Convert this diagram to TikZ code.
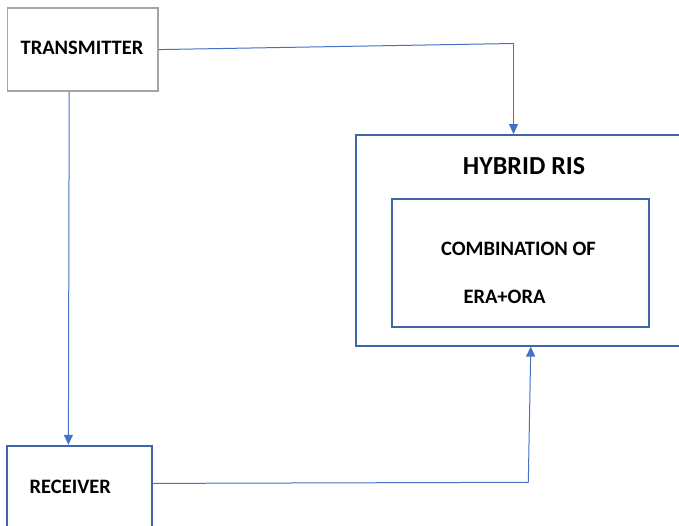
\documentclass[tikz,border=0pt]{standalone}
\usepackage{fontspec}
\setmainfont{Carlito}
\usetikzlibrary{arrows.meta,calc}
\definecolor{lineblue}{RGB}{68,114,196}
\definecolor{boxblue}{RGB}{62,100,170}
\definecolor{boxgray}{RGB}{165,165,165}
\tikzset{
  graybox/.style={draw=boxgray,line width=1.6pt,inner sep=0pt,fill=white},
  bluebox/.style={draw=boxblue,line width=1.8pt,inner sep=0pt,fill=white},
  lbl/.style={font=\bfseries\fontsize{20.5}{24}\selectfont,inner sep=0pt,text=black},
  biglbl/.style={font=\bfseries\fontsize{26}{30}\selectfont,inner sep=0pt,text=black},
  conn/.style={draw=lineblue,line width=1pt},
  arr/.style={conn,-{Triangle[length=10pt,width=9pt]}}
}
\begin{document}
\begin{tikzpicture}[x=1pt,y=-1pt]
\useasboundingbox (0,0) rectangle (679,526);
\clip (0,0) rectangle (679,526);
% boxes
\node[graybox,minimum width=150.4pt,minimum height=82.7pt] (tx) at (82.5,49.6) {};
\node[lbl] (txt) at (82,48) {TRANSMITTER};
\node[bluebox,minimum width=364pt,minimum height=210.7pt] (ris) at (538,240.35) {};
\node[biglbl] (ristitle) at (524,165.7) {HYBRID RIS};
\node[bluebox,minimum width=257pt,minimum height=127.7pt] (comb) at (520.8,262.85) {};
\node[lbl] (combt) at (518.5,249) {COMBINATION OF};
\node[lbl] (erat) at (504.5,297) {ERA+ORA};
\node[bluebox,minimum width=145.6pt,minimum height=120pt] (rx) at (79.5,505.7) {};
\node[lbl] (rxt) at (70.3,486.5) {RECEIVER};
% connector points
\coordinate (c1) at (513.5,43.5);
\coordinate (c2) at (528.3,482.3);
\coordinate (txb) at ($(tx.south west)+(62.7,0)$);
\coordinate (rxtop) at ($(rx.north west)+(62.6,0)$);
\coordinate (rxe) at ($(rx.north east)+(0,38.6)$);
\coordinate (risb) at ($(ris.south west)+(175.7,0)$);
% connectors
\draw[conn] (tx.east) -- (c1);
\draw[arr] (c1) -- (c1 |- ris.north);
\draw[arr] (txb) -- (rxtop);
\draw[conn] (rxe) -- (c2);
\draw[arr] (c2) -- (risb);
\end{tikzpicture}
\end{document}
